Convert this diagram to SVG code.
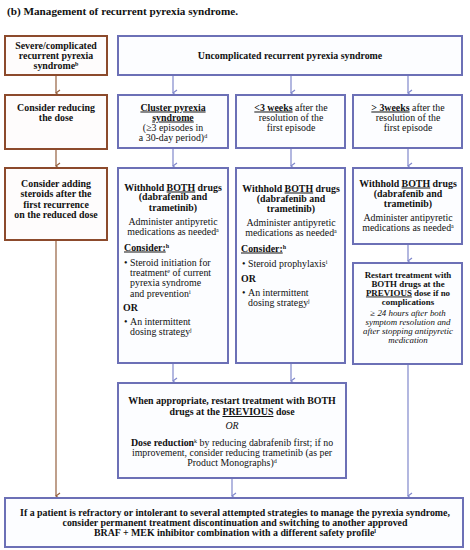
<svg xmlns="http://www.w3.org/2000/svg" width="470" height="550" viewBox="0 0 470 550">
<style>
text{font-family:"Liberation Serif","Times New Roman",serif;fill:#111;font-size:9.9px}
.c{text-anchor:middle}
.b{font-weight:bold}
.i{font-style:italic}
.u{text-decoration:underline}
.t{font-size:11.2px;font-weight:bold}
.rb{fill:#fefcfc;stroke:#8c4a2c;stroke-width:2}
.bb{fill:#fcfdff;stroke:#6c70b6;stroke-width:2}
.ra{stroke:#94603e;stroke-width:1.2;fill:none}
.ba{stroke:#8088cc;stroke-width:1.2;fill:none}
.sm{font-size:8.9px}
.s{font-size:6px}
</style>
<defs>
<marker id="ah-r" markerWidth="8" markerHeight="8" refX="4" refY="5" orient="auto" markerUnits="userSpaceOnUse" viewBox="0 0 8 8">
<path d="M1,1 L4,5 L7,1" fill="none" stroke="#94603e" stroke-width="1.2"/>
</marker>
<marker id="ah-b" markerWidth="8" markerHeight="8" refX="4" refY="5" orient="auto" markerUnits="userSpaceOnUse" viewBox="0 0 8 8">
<path d="M1,1 L4,5 L7,1" fill="none" stroke="#8088cc" stroke-width="1.2"/>
</marker>
</defs>
<rect width="470" height="550" fill="#fff"/>
<text class="t" x="7" y="15">(b) Management of recurrent pyrexia syndrome.</text>

<g id="connectors">
<line class="ra" x1="56" y1="75" x2="56" y2="93" marker-end="url(#ah-r)"/>
<line class="ra" x1="56" y1="149" x2="56" y2="166" marker-end="url(#ah-r)"/>
<line class="ra" x1="56" y1="240" x2="56" y2="496" marker-end="url(#ah-r)"/>
<line class="ba" x1="173" y1="75" x2="173" y2="93" marker-end="url(#ah-b)"/>
<line class="ba" x1="291" y1="75" x2="291" y2="93" marker-end="url(#ah-b)"/>
<line class="ba" x1="408" y1="75" x2="408" y2="93" marker-end="url(#ah-b)"/>
<line class="ba" x1="173" y1="148" x2="173" y2="166" marker-end="url(#ah-b)"/>
<line class="ba" x1="291" y1="148" x2="291" y2="166" marker-end="url(#ah-b)"/>
<line class="ba" x1="408" y1="148" x2="408" y2="166" marker-end="url(#ah-b)"/>
<line class="ba" x1="408" y1="244" x2="408" y2="261" marker-end="url(#ah-b)"/>
<line class="ba" x1="173" y1="363" x2="173" y2="381" marker-end="url(#ah-b)"/>
<line class="ba" x1="291" y1="363" x2="291" y2="381" marker-end="url(#ah-b)"/>
<line class="ba" x1="232" y1="478" x2="232" y2="496" marker-end="url(#ah-b)"/>
<line class="ba" x1="408" y1="364" x2="408" y2="496" marker-end="url(#ah-b)"/>
</g>

<g id="severe">
<rect class="rb" x="5" y="36" width="102" height="39"/>
<text class="c b" x="56" y="48.5">Severe/complicated</text>
<text class="c b" x="56" y="58.5">recurrent pyrexia</text>
<text class="c b" x="56" y="69">syndrome<tspan class="s" baseline-shift="super">b</tspan></text>
</g>

<g id="reduce-dose">
<rect class="rb" x="5" y="95" width="102" height="54"/>
<text class="c b" x="56" y="110.5">Consider reducing</text>
<text class="c b" x="56" y="121">the dose</text>
</g>

<g id="add-steroids">
<rect class="rb" x="5" y="168" width="102" height="72"/>
<text class="c b" x="56" y="186.5">Consider adding</text>
<text class="c b" x="56" y="197">steroids after the</text>
<text class="c b" x="56" y="207.5">first recurrence</text>
<text class="c b" x="56" y="217.5">on the reduced dose</text>
</g>

<g id="uncomplicated">
<rect class="bb" x="118" y="36" width="344" height="39"/>
<text class="c b" x="290" y="58.5">Uncomplicated recurrent pyrexia syndrome</text>
</g>

<g id="cluster">
<rect class="bb" x="118" y="95" width="110" height="53"/>
<text class="c b u" x="173" y="110.5">Cluster pyrexia</text>
<text class="c b u" x="173" y="120.5">syndrome</text>
<text class="c" x="173" y="130.5">(≥3 episodes  in</text>
<text class="c" x="173" y="141">a 30-day period)<tspan class="s" baseline-shift="super">d</tspan></text>
</g>

<g id="lt3weeks">
<rect class="bb" x="236" y="95" width="109" height="53"/>
<text class="c" x="291" y="110.5"><tspan class="b u">&lt;3 weeks</tspan> after the</text>
<text class="c" x="291" y="120.5">resolution of the</text>
<text class="c" x="291" y="130.5">first episode</text>
</g>

<g id="gt3weeks">
<rect class="bb" x="353" y="95" width="109" height="53"/>
<text class="c" x="408" y="110.5"><tspan class="b u">&gt; 3weeks</tspan> after the</text>
<text class="c" x="408" y="120.5">resolution of the</text>
<text class="c" x="408" y="130.5">first episode</text>
</g>

<g id="withhold-cluster">
<rect class="bb" x="118" y="168" width="110" height="195"/>
<text class="c b" x="173" y="190.5">Withhold <tspan class="u">BOTH</tspan> drugs</text>
<text class="c b" x="173" y="200">(dabrafenib and</text>
<text class="c b" x="173" y="210.5">trametinib)</text>
<text class="c" x="173" y="224.5">Administer  antipyretic</text>
<text class="c" x="173" y="234.5">medications  as needed<tspan class="s" baseline-shift="super">a</tspan></text>
<text class="b" x="124" y="250.5"><tspan class="u">Consider:</tspan><tspan class="s" baseline-shift="super">h</tspan></text>
<text x="124" y="265.5">•</text>
<text x="130" y="265.5">Steroid initiation for</text>
<text x="130" y="276">treatment<tspan class="s" baseline-shift="super">e</tspan> of current</text>
<text x="130" y="286">pyrexia syndrome</text>
<text x="130" y="296.5">and prevention<tspan class="s" baseline-shift="super">i</tspan></text>
<text class="b" x="123" y="310.5">OR</text>
<text x="124" y="324.5">•</text>
<text x="130" y="324.5">An intermittent</text>
<text x="130" y="334.5">dosing strategy<tspan class="s" baseline-shift="super">j</tspan></text>
</g>

<g id="withhold-lt3">
<rect class="bb" x="236" y="168" width="109" height="195"/>
<text class="c b" x="291" y="191.5">Withhold <tspan class="u">BOTH</tspan> drugs</text>
<text class="c b" x="291" y="201.5">(dabrafenib and</text>
<text class="c b" x="291" y="212">trametinib)</text>
<text class="c" x="291" y="226">Administer antipyretic</text>
<text class="c" x="291" y="236">medications as needed<tspan class="s" baseline-shift="super">a</tspan></text>
<text class="b" x="241" y="251.5"><tspan class="u">Consider:</tspan><tspan class="s" baseline-shift="super">h</tspan></text>
<text x="242" y="267">•</text>
<text x="248" y="267">Steroid prophylaxis<tspan class="s" baseline-shift="super">i</tspan></text>
<text class="b" x="241" y="281.5">OR</text>
<text x="242" y="296">•</text>
<text x="248" y="296">An intermittent</text>
<text x="248" y="306">dosing strategy<tspan class="s" baseline-shift="super">j</tspan></text>
</g>

<g id="withhold-gt3">
<rect class="bb" x="353" y="168" width="109" height="76"/>
<text class="c b" x="408" y="186.5">Withhold <tspan class="u">BOTH</tspan> drugs</text>
<text class="c b" x="408" y="196.5">(dabrafenib and</text>
<text class="c b" x="408" y="207">trametinib)</text>
<text class="c" x="408" y="221">Administer antipyretic</text>
<text class="c" x="408" y="231">medications as needed<tspan class="s" baseline-shift="super">a</tspan></text>
</g>

<g id="restart-gt3">
<rect class="bb" x="353" y="263" width="109" height="101"/>
<text class="c b sm" x="408" y="277.5">Restart treatment with</text>
<text class="c b sm" x="408" y="286.5">BOTH drugs at the</text>
<text class="c b sm" x="408" y="295.5"><tspan class="u">PREVIOUS</tspan> dose if no</text>
<text class="c b sm" x="408" y="304.5">complications</text>
<text class="c i sm" x="408" y="316">≥ 24 hours after both</text>
<text class="c i sm" x="408" y="325">symptom resolution and</text>
<text class="c i sm" x="408" y="334">after stopping antipyretic</text>
<text class="c i sm" x="408" y="343">medication</text>
</g>

<g id="restart-or-reduce">
<rect class="bb" x="118" y="383" width="228" height="95"/>
<text class="c b" x="232" y="403.5">When appropriate, restart treatment with BOTH</text>
<text class="c b" x="232" y="415">drugs at the <tspan class="u">PREVIOUS</tspan>  dose</text>
<text class="c i" x="232" y="428.5">OR</text>
<text class="c" x="232" y="446"><tspan class="b">Dose reduction</tspan><tspan class="s" baseline-shift="super">k</tspan> by reducing dabrafenib first; if no</text>
<text class="c" x="232" y="456">improvement, consider reducing trametinib (as per</text>
<text class="c" x="232" y="465.5">Product Monographs)<tspan class="s" baseline-shift="super">d</tspan></text>
</g>

<g id="discontinue">
<rect class="bb" x="5" y="498" width="458" height="49"/>
<text class="c b" x="235" y="516">If a patient is refractory or intolerant to several attempted strategies to manage the pyrexia syndrome,</text>
<text class="c b" x="235" y="526">consider permanent treatment discontinuation and switching to another approved</text>
<text class="c b" x="235" y="535.5">BRAF + MEK inhibitor combination with a different safety profile<tspan class="s" baseline-shift="super">l</tspan></text>
</g>
</svg>
